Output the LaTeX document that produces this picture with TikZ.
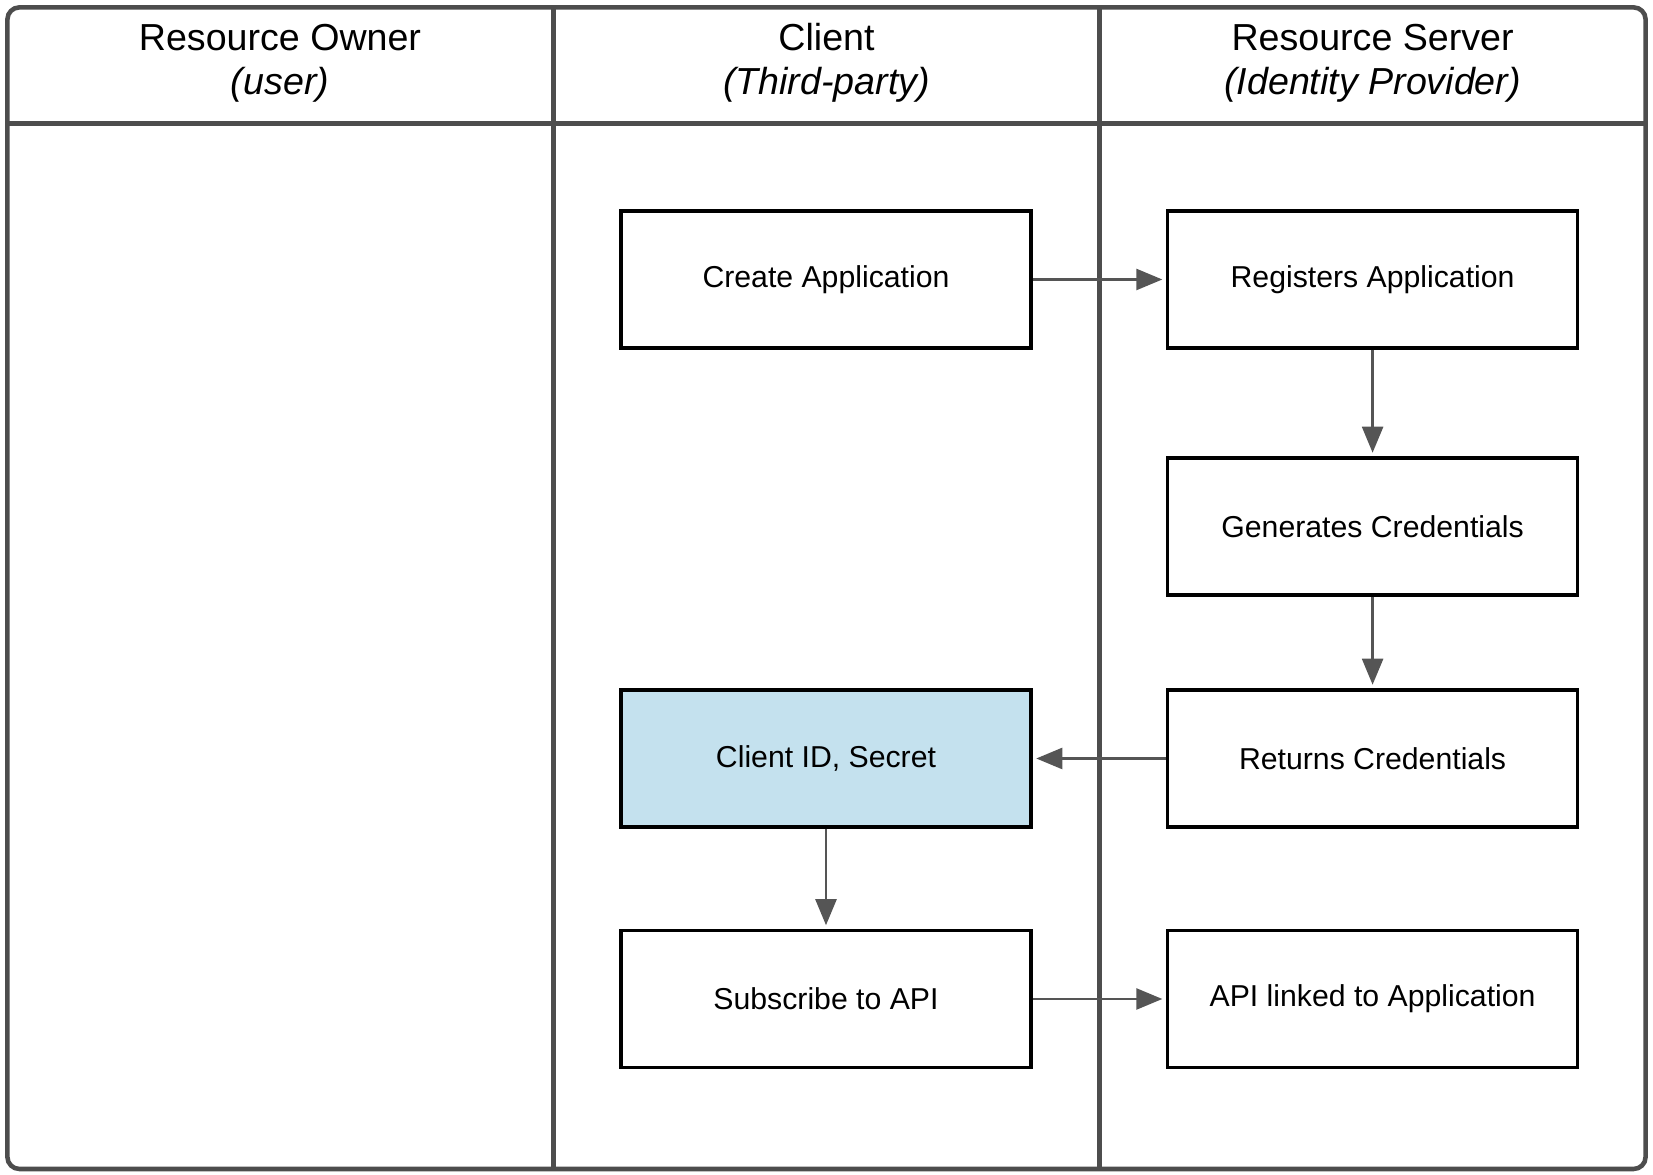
\documentclass[tikz,border=0pt]{standalone}
\usepackage{fontspec}
\setmainfont{Liberation Sans}
\usetikzlibrary{arrows.meta,positioning}
\definecolor{lane}{HTML}{4D4D4D}
\definecolor{edge}{HTML}{555555}
\definecolor{idfill}{HTML}{C4E1EE}
\tikzset{
  frame/.style={draw=lane, line width=1.3pt, rounded corners=1.2mm},
  divider/.style={draw=lane, line width=1.3pt},
  stepbox/.style={draw=black, line width=1pt, minimum width=4.10cm, minimum height=1.37cm, inner sep=0pt, font=\fontsize{8.6}{10}\selectfont},
  head/.style={align=center, font=\fontsize{10.7}{12.5}\selectfont},
  flow/.style={draw=edge, line width=0.7pt, -{Triangle[length=2.6mm,width=2.1mm,fill=edge]}, shorten >=1pt},
}

\begin{document}
\begin{tikzpicture}
  \useasboundingbox (0,0) rectangle (16.53,11.75);
  % swimlanes
  \draw[frame] (0.074,0.06) rectangle (16.456,11.676);
  \draw[divider] (0.074,10.517) -- (16.456,10.517);
  \draw[divider] (5.535,0.06) -- (5.535,11.676);
  \draw[divider] (10.996,0.06) -- (10.996,11.676);
  \node[head] (owner) at (2.80,11.12) {Resource Owner\\\textit{(user)}};
  \node[head] (client) at (8.265,11.12) {Client\\\textit{(Third-party)}};
  \node[head] (server) at (13.726,11.12) {Resource Server\\\textit{(Identity Provider)}};
  % steps
  \node[stepbox] (create) at (8.26,8.955) {Create Application};
  \node[stepbox] (register) at (13.726,8.955) {Registers Application};
  \node[stepbox] (generate) at (13.726,6.485) {Generates Credentials};
  \node[stepbox] (return) at (13.726,4.165) {Returns Credentials};
  \node[stepbox, fill=idfill] (secret) at (8.26,4.165) {Client ID, Secret};
  \node[stepbox] (subscribe) at (8.26,1.76) {Subscribe to API};
  \node[stepbox] (linked) at (13.726,1.76) {API linked to Application};
  % arrows
  \draw[flow] (create) -- (register);
  \draw[flow] (register) -- (generate);
  \draw[flow] (generate) -- (return);
  \draw[flow] (return) -- (secret);
  \draw[flow] (secret) -- (subscribe);
  \draw[flow] (subscribe) -- (linked);
\end{tikzpicture}
\end{document}
